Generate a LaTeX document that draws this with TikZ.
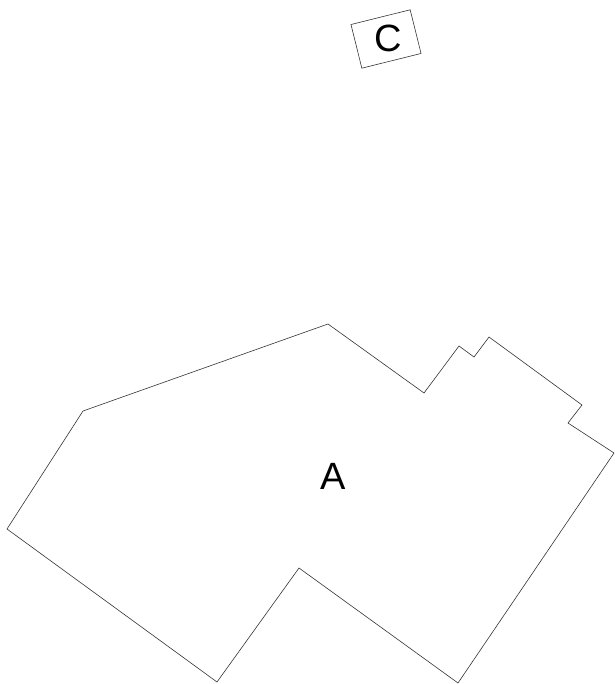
\documentclass[tikz,border=0pt]{standalone}
\usepackage{fontspec}
\setmainfont{Liberation Sans}
\usepackage{tikz}
\begin{document}
\begin{tikzpicture}[x=1pt,y=-1pt,line width=0.6pt,every node/.style={font=\fontsize{38}{40}\selectfont}]
\useasboundingbox(0,0)rectangle(614,684);
\draw[black!80](328,324)--(424,393)--(459,346)--(474,357)--(489,337)--(582,405)--(568,423)--(614,453)
--(458,683)--(299,568)--(217,682)--(7,529)--(83,411)--cycle;
\node(labA)at(333,476){A};
\node(boxC)[draw,black!80,rotate=14,minimum width=61pt,minimum height=45pt,inner sep=0pt]at(386,39){};
\node(labC)at(388,38){C};
\end{tikzpicture}
\end{document}
